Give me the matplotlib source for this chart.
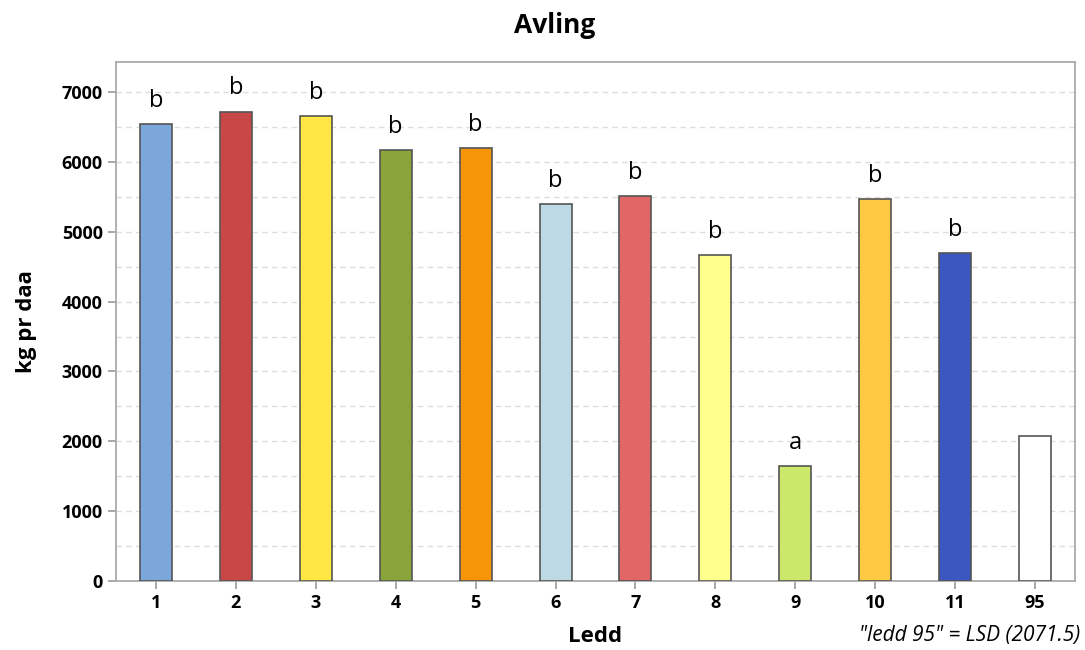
import matplotlib
matplotlib.use("Agg")
import matplotlib.pyplot as plt
import numpy as np

plt.rcParams['font.family'] = ['Open Sans', 'DejaVu Sans']

ledd = ['1', '2', '3', '4', '5', '6', '7', '8', '9', '10', '11', '95']
avling = [6540, 6720, 6650, 6170, 6195, 5390, 5510, 4665, 1645, 5465, 4690, 2071.5]
letters = ['b', 'b', 'b', 'b', 'b', 'b', 'b', 'b', 'a', 'b', 'b', '']
colors = ['#7BA7DA', '#C84848', '#FFE843', '#88A43A', '#F79508', '#BDDAE4',
          '#E36666', '#FFFF8E', '#CBE86B', '#FEC842', '#3C57C0', '#FFFFFF']

fig = plt.figure(figsize=(10.85, 6.5), dpi=100)
ax = fig.add_axes([0.1069, 0.1062, 0.8839, 0.7984])

x = np.arange(len(ledd))
ax.bar(x, avling, width=0.4, color=colors, edgecolor='#555555', linewidth=1.2, zorder=3)

for xi, v, l in zip(x, avling, letters):
    if l:
        ax.annotate(l, (xi, v), xytext=(0, 8), textcoords='offset points',
                    ha='center', va='bottom', fontsize=17, color='black')

ax.set_xlim(-0.5, len(ledd) - 0.5)
ax.set_ylim(0, 7430)
ax.set_xticks(x)
ax.set_xticklabels(ledd)
ax.set_yticks(np.arange(0, 7001, 1000))
ax.set_yticks(np.arange(500, 7001, 1000), minor=True)
ax.tick_params(axis='both', which='major', labelsize=13, color='#999999', length=6, width=1.2)
ax.tick_params(axis='y', which='minor', length=0)
for lab in ax.get_xticklabels() + ax.get_yticklabels():
    lab.set_fontweight('bold')
ax.grid(axis='y', which='both', linestyle=(0, (4, 3)), color='#DDDDDD', linewidth=1, zorder=0)
for s in ax.spines.values():
    s.set_color('#AAAAAA')
    s.set_linewidth(1.3)

ax.set_xlabel('Ledd', fontsize=16, fontweight='bold', labelpad=10)
ax.set_ylabel('kg pr daa', fontsize=16, fontweight='bold', labelpad=18)
fig.text(0.511, 0.9615, 'Avling', ha='center', va='center', fontsize=19, fontweight='bold')

fig.text(0.996, 0.022, '"ledd 95" = LSD (2071.5)', ha='right', va='center',
         fontsize=15, style='italic')

fig.savefig('out.png', dpi=100)
